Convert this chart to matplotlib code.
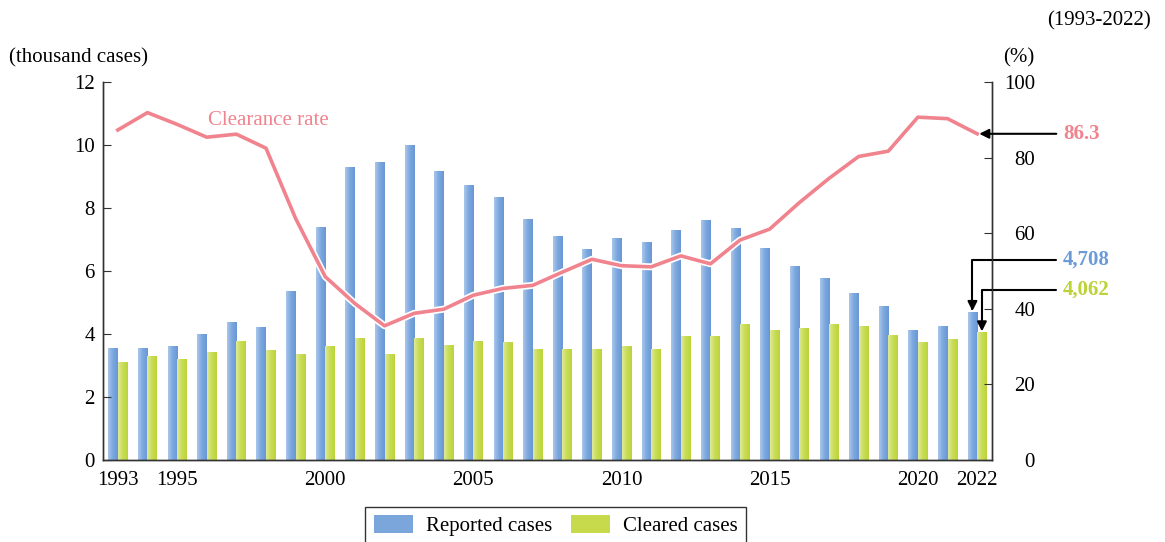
import matplotlib.pyplot as plt
import matplotlib.patheffects as pe
from matplotlib.patches import Patch
from matplotlib.colors import LinearSegmentedColormap
import numpy as np

plt.rcParams["font.family"] = ["Liberation Serif", "DejaVu Serif"]

years = list(range(1993, 2023))
reported = [3.57, 3.57, 3.63, 4.00, 4.38, 4.23, 5.35, 7.41, 9.30, 9.47,
            10.00, 9.19, 8.73, 8.34, 7.66, 7.12, 6.71, 7.06, 6.91, 7.30,
            7.63, 7.38, 6.73, 6.16, 5.79, 5.31, 4.90, 4.14, 4.25, 4.708]
cleared = [3.12, 3.30, 3.21, 3.42, 3.79, 3.50, 3.38, 3.61, 3.88, 3.35,
           3.88, 3.64, 3.78, 3.76, 3.52, 3.52, 3.53, 3.63, 3.52, 3.93,
           3.95, 4.31, 4.12, 4.20, 4.31, 4.26, 3.98, 3.76, 3.84, 4.062]
clearance_rate = [87.3, 91.9, 88.8, 85.4, 86.2, 82.5, 63.9, 48.5, 41.4, 35.5,
                  38.8, 39.9, 43.6, 45.4, 46.2, 49.7, 53.1, 51.4, 51.1, 54.0,
                  51.9, 58.2, 61.1, 68.1, 74.5, 80.3, 81.7, 90.7, 90.3, 86.3]
year_ticks = [1993, 1995, 2000, 2005, 2010, 2015, 2020, 2022]

blue = "#7aa6dc"
green = "#c6da4c"
pink = "#f0838d"
dark = "#333333"

blue_grad = LinearSegmentedColormap.from_list("b", ["#a9c6ea", "#7ba7de", "#6a97d5"])
green_grad = LinearSegmentedColormap.from_list("g", ["#dde99a", "#c8dc52", "#bdd33c"])
grad = np.linspace(0, 1, 32).reshape(1, -1)

fig = plt.figure(figsize=(11.65, 5.42), dpi=100)
ax = fig.add_axes([0.0884, 0.1513, 0.7631, 0.6974])
ax2 = ax.twinx()

x = np.array(years)
w = 0.32
bars_r = ax.bar(x - w / 2, reported, w, color=blue, edgecolor="white", linewidth=0.8)
bars_c = ax.bar(x + w / 2, cleared, w, color=green, edgecolor="white", linewidth=0.8)

# horizontal shading inside each bar
for bars, cmap in ((bars_r, blue_grad), (bars_c, green_grad)):
    for b in bars:
        x0, y0 = b.get_x(), b.get_y()
        im = ax.imshow(grad, cmap=cmap, aspect="auto", zorder=b.get_zorder() + 0.1,
                       extent=(x0, x0 + b.get_width(), y0, y0 + b.get_height()))
        im.set_clip_path(b)

ax.set_xlim(1992.5, 2022.5)
ax.set_ylim(0, 12)
ax.set_yticks(range(0, 13, 2))
ax.set_xticks(year_ticks)
ax.tick_params(axis="x", length=0, pad=8, labelsize=15)
ax.tick_params(axis="y", direction="in", length=6, pad=6, labelsize=15, color=dark)

ax2.plot(x, clearance_rate, color=pink, lw=2.6, zorder=3,
         path_effects=[pe.Stroke(linewidth=5, foreground="white"), pe.Normal()])
ax2.set_ylim(0, 100)
ax2.set_yticks(range(0, 101, 20))
ax2.tick_params(axis="y", direction="in", length=6, pad=31, labelsize=15, color=dark)
for lab in ax2.get_yticklabels():
    lab.set_horizontalalignment("right")

for a in (ax, ax2):
    a.spines["top"].set_visible(False)
    for s in ("left", "right", "bottom"):
        a.spines[s].set_color(dark)
        a.spines[s].set_linewidth(1.0)

ax2.text(1996.05, 89.7, "Clearance rate", color=pink, fontsize=15, va="center")

fig.text(0.008, 0.885, "(thousand cases)", fontsize=15)
fig.text(0.861, 0.885, "(%)", fontsize=15)
fig.text(0.988, 0.953, "(1993-2022)", fontsize=15, ha="right")

# callouts for 2022
ax2.annotate("", xy=(2022.07, clearance_rate[-1]), xytext=(2024.67, clearance_rate[-1]),
             annotation_clip=False,
             arrowprops=dict(arrowstyle="-|>", color="black", lw=1.5, shrinkA=0, shrinkB=0,
                             mutation_scale=14))
ax2.text(2024.9, clearance_rate[-1], "86.3", color=pink, fontsize=15, fontweight="bold",
         va="center", ha="left")

ax.annotate("", xy=(2022 - w / 2, reported[-1] + 0.02), xytext=(2024.67, 6.35),
            annotation_clip=False,
            arrowprops=dict(arrowstyle="-|>", color="black", lw=1.5, shrinkA=0, shrinkB=0,
                            mutation_scale=14,
                            connectionstyle="angle,angleA=180,angleB=90,rad=0"))
ax.text(2024.9, 6.35, "4,708", color="#6a9ad8", fontsize=15, fontweight="bold",
        va="center", ha="left")

ax.annotate("", xy=(2022 + w / 2, cleared[-1] + 0.02), xytext=(2024.67, 5.40),
            annotation_clip=False,
            arrowprops=dict(arrowstyle="-|>", color="black", lw=1.5, shrinkA=0, shrinkB=0,
                            mutation_scale=14,
                            connectionstyle="angle,angleA=180,angleB=90,rad=0"))
ax.text(2024.9, 5.40, "4,062", color="#bcd236", fontsize=15, fontweight="bold",
        va="center", ha="left")

handles = [Patch(facecolor=blue, edgecolor="none", label="Reported cases"),
           Patch(facecolor=green, edgecolor="none", label="Cleared cases")]
fig.legend(handles=handles, loc="upper center", bbox_to_anchor=(0.477, 0.0646), ncol=2,
           fontsize=15, frameon=True, fancybox=False, edgecolor=dark, framealpha=1,
           borderaxespad=0, handlelength=1.9, handleheight=0.9, handletextpad=0.6,
           columnspacing=0.9, borderpad=0.4)

fig.savefig("out.png", dpi=100)
